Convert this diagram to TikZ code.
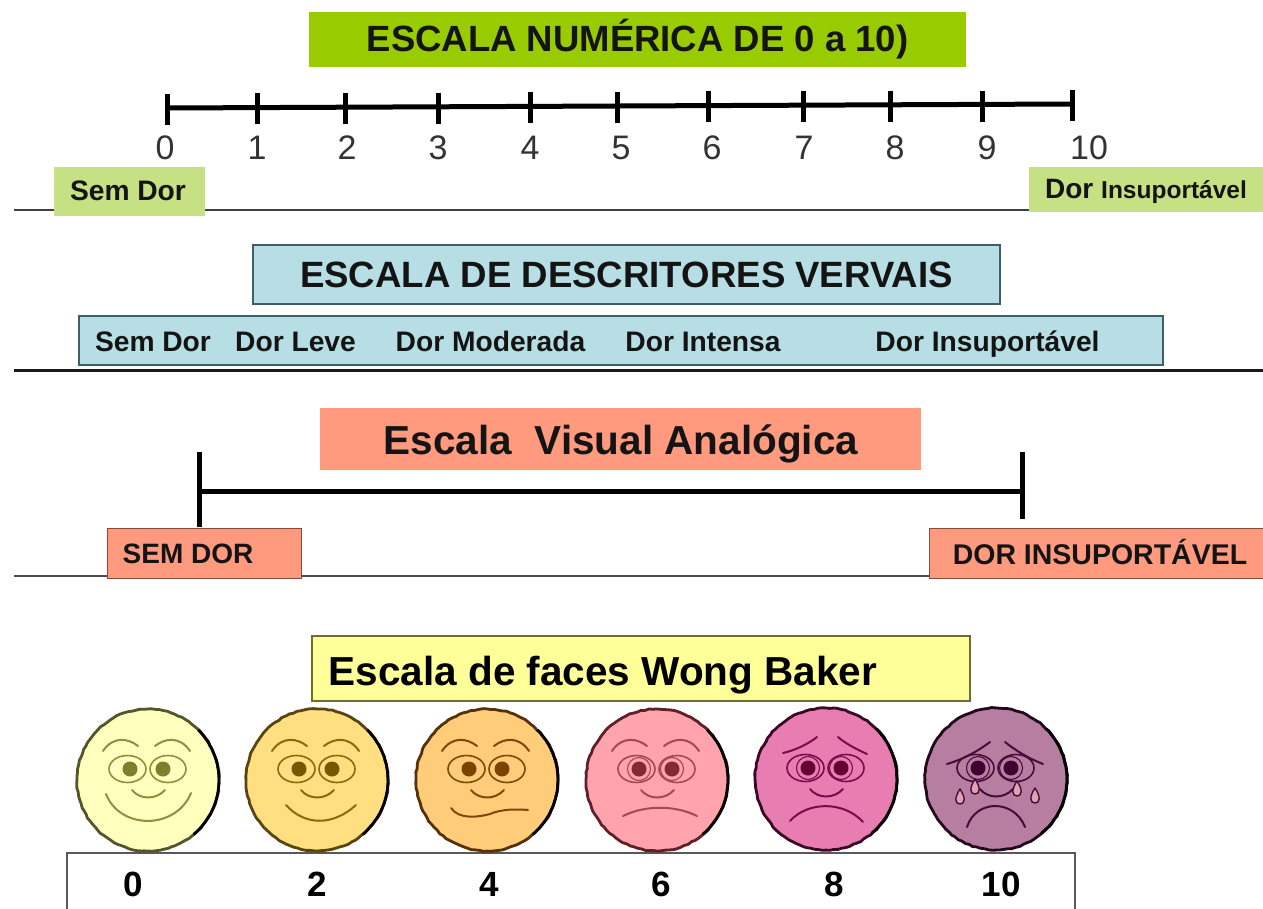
\documentclass[tikz,border=0pt]{standalone}
\usepackage{fontspec}
\usetikzlibrary{decorations.pathmorphing}
\setmainfont{Liberation Sans}
\newcommand{\fs}[1]{\fontsize{#1}{#1}\selectfont}
\definecolor{barG}{HTML}{99CC00}
\definecolor{lightG}{HTML}{C6E184}
\definecolor{barB}{HTML}{B7DEE4}
\definecolor{barS}{HTML}{FF9A7E}
\definecolor{barY}{HTML}{FFFF99}
\definecolor{edgeB}{HTML}{3F5F66}
\definecolor{edgeS}{HTML}{8A4A38}
\definecolor{edgeY}{HTML}{6E6E2A}
\definecolor{txt}{HTML}{141414}
\definecolor{fa}{HTML}{FFFFBE}\definecolor{la}{HTML}{8F8F40}\definecolor{pa}{HTML}{7F7F2A}\definecolor{ra}{HTML}{55552A}
\definecolor{fb}{HTML}{FFDF7F}\definecolor{lb}{HTML}{8A6A10}\definecolor{pb}{HTML}{7A5500}\definecolor{rb}{HTML}{5A4510}
\definecolor{fc}{HTML}{FFCC7A}\definecolor{lc}{HTML}{7A4A08}\definecolor{pc}{HTML}{7A4400}\definecolor{rc}{HTML}{553208}
\definecolor{fd}{HTML}{FFA3AC}\definecolor{ld}{HTML}{A04A55}\definecolor{pd}{HTML}{7F2A35}\definecolor{rd}{HTML}{5F2028}
\definecolor{fe}{HTML}{E87DB2}\definecolor{le}{HTML}{7A0A4A}\definecolor{pe}{HTML}{660033}\definecolor{re}{HTML}{3A0A25}
\definecolor{ff}{HTML}{B67EA0}\definecolor{lf}{HTML}{4A0A3A}\definecolor{pf}{HTML}{3F0030}\definecolor{rf}{HTML}{220A1A}
\newcommand{\facepic}[6]{%
 % #1 centre, #2 fill, #3 line, #4 brows+mouth paths, #5 pupil colour, #6 rim
 \begin{scope}[shift={#1}]
  \fill[#2] (0,0) circle[radius=71pt];
  \draw[#6,line width=2.8pt,decorate,decoration={random steps,segment length=4pt,amplitude=.5pt}] (0,0) circle[radius=71pt];
  \draw[black,line width=2.8pt] (50.2pt,50.2pt) arc[start angle=45,end angle=-50,radius=71pt];
  \begin{scope}[#3,line width=1.6pt]
  \draw (-20.5,-11) ellipse[x radius=18.5pt,y radius=13.5pt];
  \draw (20,-11) ellipse[x radius=18pt,y radius=13.5pt];
  \end{scope}
  \fill[#5] (-18,-11) circle[radius=7.5pt];
  \fill[#5] (15,-11) circle[radius=7.5pt];
  \draw[#3,line width=2pt,line cap=round] (-16,10) .. controls (-8,20) and (8,20) .. (17,10);
  \begin{scope}[#3,line width=2pt,line cap=round]#4\end{scope}
 \end{scope}}
\newcommand{\browsA}{%
 \draw (-45,-29) .. controls (-35,-44) and (-20,-42) .. (-10,-34);
 \draw (7,-34) .. controls (17,-42) and (32,-44) .. (42,-29);}
\newcommand{\rings}{%
 \draw[line width=1.1pt] (-18,-11) circle[radius=11.5pt];
 \draw[line width=1.1pt] (15,-11) circle[radius=11.5pt];}
\tikzset{
 bar/.style={inner sep=0pt,outer sep=0pt,align=center,font=\bfseries,text=txt},
 tick/.style={line width=5pt},
 thinrule/.style={line width=1.4pt,color=black!75},
 num/.style={font=\fs{34},inner sep=0pt,text=black!80},
 fnum/.style={font=\bfseries\fs{35},inner sep=0pt,text=black},
 row/.style={font=\bfseries\fs{28.2},inner sep=0pt,text=txt,anchor=base},
}
\begin{document}
\begin{tikzpicture}[x=1pt,y=-1pt]
\useasboundingbox (0,0) rectangle (1263,909);
\fill[white] (0,0) rectangle (1263,909);
% rules
\draw[thinrule] (14,210) -- (1263,210);
\draw[line width=3pt,black!90] (14,370) -- (1263,370);
\draw[line width=1.2pt,black!70] (14,576) -- (1263,576);
% numeric scale
\node[bar,fill=barG,minimum width=657pt,minimum height=55pt,font=\bfseries\fs{36.5}] (t1) at (637.5,39.5) {ESCALA NUMÉRICA DE 0 a 10)};
\foreach \n/\x/\y/\lx in {0/167/108/165,1/257/107/257,2/345/107/347,3/438/107/438,4/530/106/530,5/617/106/621,6/708/105/712,7/803/105/804,8/890/105/895,9/982/105/987,10/1072/104/1089}{
  \coordinate (a\n) at (\x,\y);
  \draw[tick] (\x,\y-14) -- (\x,\y+17);
  \node[num] (n\n) at (\lx,148) {\n};
}
\draw[tick] (a0) -- (a10);
\node[bar,fill=lightG,minimum width=151pt,minimum height=49pt] (s1) at (129.5,191.5) {};
\node[row] at (128,201) {Sem Dor};
\node[bar,fill=lightG,minimum width=234pt,minimum height=45pt] (d1) at (1146,189.5) {};
\node[row] at (1146,199) {{\fs{28}Dor} {\fs{24.5}Insuportável}};
% verbal scale
\node[bar,fill=barB,draw=edgeB,line width=1.2pt,minimum width=747pt,minimum height=59pt] (t2) at (626.5,274.5) {};
\node[bar,font=\bfseries\fs{36.6}] at (t2) {ESCALA DE DESCRITORES VERVAIS};
\node[bar,fill=barB,draw=edgeB,line width=1.2pt,minimum width=1084pt,minimum height=49pt] (r2) at (621,340.5) {};
\node[row] (v1) at (153,351) {Sem Dor};
\node[row] (v2) at (295.5,351) {Dor Leve};
\node[row] (v3) at (490.5,351) {Dor Moderada};
\node[row] (v4) at (703,351) {Dor Intensa};
\node[row] (v5) at (987.5,351) {Dor Insuportável};
% visual analog
\node[bar,fill=barS,minimum width=601pt,minimum height=62pt] (t3) at (620.5,439) {};
\node[bar,font=\bfseries\fs{40.5}] at (621,444) {Escala\ \ Visual Analógica};
\coordinate (e1) at (199,491);
\coordinate (e2) at (1022,491);
\draw[line width=5pt] (e1) -- (e2);
\draw[line width=5pt] (199,452) -- (199,527);
\draw[line width=5pt] (1022,452) -- (1022,519);
\node[bar,fill=barS,draw=edgeS,line width=1pt,minimum width=194pt,minimum height=50pt] (s3) at (204,553) {};
\node[bar,font=\bfseries\fs{28}] at (188,554) {SEM DOR};
\node[bar,fill=barS,draw=edgeS,line width=1pt,minimum width=336pt,minimum height=50pt] (d3) at (1097,553) {};
\node[bar,font=\bfseries\fs{28.5}] at (1100,552) {DOR INSUPORTÁVEL};
% faces
\node[bar,fill=barY,draw=edgeY,line width=1.4pt,minimum width=658pt,minimum height=65pt] (t4) at (641,668.5) {};
\node[bar,font=\bfseries\fs{40.5},text=black] at (603,675) {Escala de faces Wong Baker};
\draw[line width=1.6pt,black!65] (67,909) -- (67,853) -- (1075,853) -- (1075,909);
\foreach \t/\x in {0/133,2/317,4/489,6/661,8/834,10/1001}{
  \node[fnum] (f\t) at (\x,884) {\t};
}
\facepic{(148,780)}{fa}{la}{\browsA
  \draw (-42,14) .. controls (-28,50) and (28,50) .. (43,13);}{pa}{ra}
\facepic{(317,780)}{fb}{lb}{\browsA
  \draw (-31,25) .. controls (-12,46) and (16,46) .. (39,25);}{pb}{rb}
\facepic{(487,780)}{fc}{lc}{\browsA
  \draw (-36,28) .. controls (-28,40) and (-8,37) .. (3,34) .. controls (14,29) and (30,29) .. (41,30);}{pc}{rc}
\facepic{(657,780)}{fd}{ld}{\browsA\rings
  \draw (-34,36) .. controls (-12,25) and (18,25) .. (40,36);}{pd}{rd}
\facepic{(826,779)}{fe}{le}{\rings
  \draw (-43,-26) .. controls (-30,-29) and (-18,-35) .. (-9,-42);
  \draw (12,-42) .. controls (20,-35) and (32,-29) .. (41,-25);
  \draw (-36,42) .. controls (-18,22) and (18,22) .. (37,43);}{pe}{re}
\facepic{(996,779)}{ff}{lf}{\rings
  \draw (-49,-15) .. controls (-32,-20) and (-18,-28) .. (-6,-37);
  \draw (9,-37) .. controls (20,-28) and (34,-20) .. (47,-15);
  \draw (-29,48) .. controls (-20,20) and (18,20) .. (29,48);
  \foreach \tx/\ty in {-21/8,21/10,-36/18,39/17}{
    \draw[line width=1.4pt,fill=pink!55!ff] (\tx,\ty-8) .. controls (\tx+6,\ty+1) and (\tx+5,\ty+7) .. (\tx,\ty+7) .. controls (\tx-5,\ty+7) and (\tx-6,\ty+1) .. (\tx,\ty-8);
  }}{pf}{rf}
\end{tikzpicture}
\end{document}
